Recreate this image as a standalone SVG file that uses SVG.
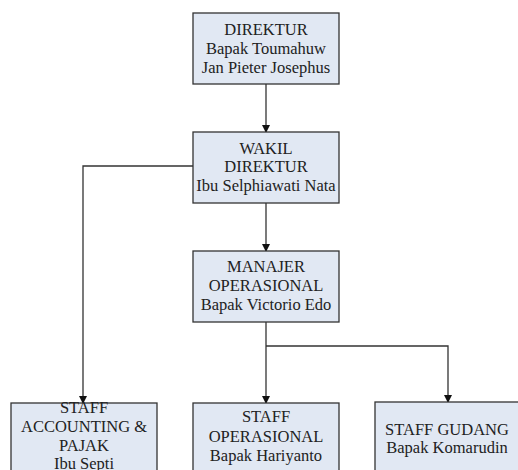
<svg xmlns="http://www.w3.org/2000/svg" width="518" height="470" viewBox="0 0 518 470">
<style>
.box{fill:#e1e8f3;stroke:#333;stroke-width:1.3}
.t{font-family:'Liberation Serif','DejaVu Serif',serif;font-size:16.5px;fill:#222;text-anchor:middle}
.c{fill:none;stroke:#333;stroke-width:1.3}
</style>
<defs>
<marker id="ah" markerWidth="8" markerHeight="8" refX="7" refY="4" orient="auto" markerUnits="userSpaceOnUse">
<path d="M0,0 L8,4 L0,8 z" fill="#111"/>
</marker>
</defs>
<rect width="518" height="470" fill="#fff"/>
<g id="connectors">
<path class="c" d="M266,84 V132" marker-end="url(#ah)"/>
<path class="c" d="M266,203 V251" marker-end="url(#ah)"/>
<path class="c" d="M193,166 H83 V403" marker-end="url(#ah)"/>
<path class="c" d="M266,322 V403" marker-end="url(#ah)"/>
<path class="c" d="M266,346 H448 V402" marker-end="url(#ah)"/>
</g>
<g id="direktur">
<rect class="box" x="193" y="13" width="146" height="71"/>
<text class="t" x="266" y="35">DIREKTUR</text>
<text class="t" x="266" y="54">Bapak Toumahuw</text>
<text class="t" x="266" y="73">Jan Pieter Josephus</text>
</g>
<g id="wakil">
<rect class="box" x="193" y="132" width="146" height="71"/>
<text class="t" x="266" y="154">WAKIL</text>
<text class="t" x="266" y="172">DIREKTUR</text>
<text class="t" x="266" y="191">Ibu Selphiawati Nata</text>
</g>
<g id="manajer">
<rect class="box" x="193" y="251" width="146" height="71"/>
<text class="t" x="266" y="272">MANAJER</text>
<text class="t" x="266" y="291">OPERASIONAL</text>
<text class="t" x="266" y="310">Bapak Victorio Edo</text>
</g>
<g id="accounting">
<rect class="box" x="11" y="403" width="146" height="75"/>
<text class="t" x="84" y="413">STAFF</text>
<text class="t" x="84" y="432">ACCOUNTING &amp;</text>
<text class="t" x="84" y="451">PAJAK</text>
<text class="t" x="84" y="469">Ibu Septi</text>
</g>
<g id="operasional">
<rect class="box" x="193" y="403" width="146" height="75"/>
<text class="t" x="266" y="422">STAFF</text>
<text class="t" x="266" y="442">OPERASIONAL</text>
<text class="t" x="266" y="461">Bapak Hariyanto</text>
</g>
<g id="gudang">
<rect class="box" x="375" y="402" width="146" height="76"/>
<text class="t" x="447" y="435">STAFF GUDANG</text>
<text class="t" x="447" y="453">Bapak Komarudin</text>
</g>
</svg>
